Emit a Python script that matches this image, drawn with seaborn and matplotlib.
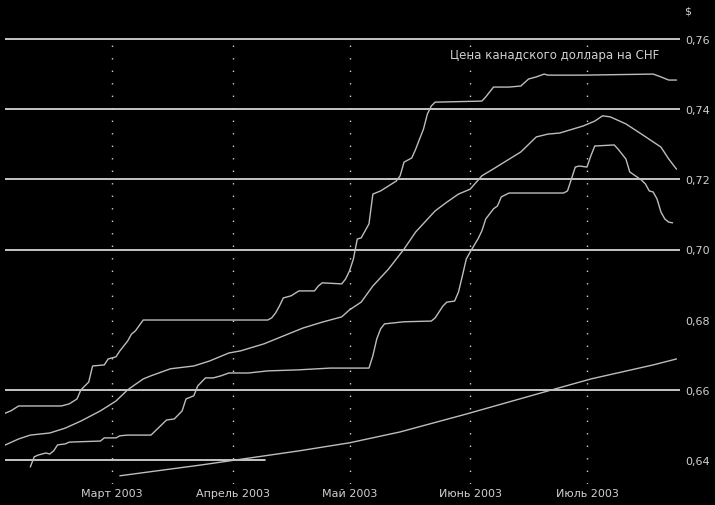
import pandas as pd
import seaborn as sns
import matplotlib
matplotlib.use("Agg")
import matplotlib.pyplot as plt
from matplotlib.ticker import FuncFormatter

# Upper band (step line)
high_dates = ["2003-02-01", "2003-02-03", "2003-02-05", "2003-02-16", "2003-02-18", "2003-02-20",
              "2003-02-21", "2003-02-23", "2003-02-24", "2003-02-27", "2003-02-28", "2003-03-02",
              "2003-03-03", "2003-03-05", "2003-03-06", "2003-03-07", "2003-03-09", "2003-04-10",
              "2003-04-11", "2003-04-12", "2003-04-13", "2003-04-14", "2003-04-16", "2003-04-18",
              "2003-04-22", "2003-04-23", "2003-04-24", "2003-04-29", "2003-04-30", "2003-05-01",
              "2003-05-02", "2003-05-03", "2003-05-04", "2003-05-05", "2003-05-06", "2003-05-07",
              "2003-05-09", "2003-05-11", "2003-05-13", "2003-05-14", "2003-05-15", "2003-05-17",
              "2003-05-18", "2003-05-19", "2003-05-20", "2003-05-21", "2003-05-22", "2003-05-23",
              "2003-06-04", "2003-06-05", "2003-06-07", "2003-06-11", "2003-06-14", "2003-06-16",
              "2003-06-18", "2003-06-20", "2003-06-21", "2003-06-30", "2003-07-18", "2003-07-20",
              "2003-07-22", "2003-07-24"]
high_vals = [0.6531, 0.6540, 0.6554, 0.6554, 0.6560, 0.6574,
             0.6600, 0.6622, 0.6668, 0.6671, 0.6688, 0.6694,
             0.6711, 0.6739, 0.6759, 0.6768, 0.6799, 0.6799,
             0.6805, 0.6819, 0.6839, 0.6862, 0.6868, 0.6882,
             0.6882, 0.6896, 0.6905, 0.6902, 0.6916, 0.6939,
             0.6973, 0.7030, 0.7033, 0.7053, 0.7073, 0.7158,
             0.7167, 0.7181, 0.7195, 0.7210, 0.7249, 0.7261,
             0.7286, 0.7315, 0.7343, 0.7386, 0.7409, 0.7420,
             0.7423, 0.7435, 0.7463, 0.7463, 0.7466, 0.7486,
             0.7492, 0.7500, 0.7497, 0.7497, 0.7500, 0.7492,
             0.7483, 0.7483]

# Moving average (smooth line)
avg_dates = ["2003-02-01", "2003-02-05", "2003-02-08", "2003-02-13", "2003-02-17", "2003-02-21",
             "2003-02-26", "2003-03-02", "2003-03-05", "2003-03-09", "2003-03-11", "2003-03-16",
             "2003-03-22", "2003-03-26", "2003-03-31", "2003-04-03", "2003-04-09", "2003-04-19",
             "2003-04-24", "2003-04-29", "2003-05-01", "2003-05-04", "2003-05-07", "2003-05-11",
             "2003-05-15", "2003-05-18", "2003-05-23", "2003-05-26", "2003-05-29", "2003-06-01",
             "2003-06-04", "2003-06-07", "2003-06-14", "2003-06-18", "2003-06-21", "2003-06-24",
             "2003-06-30", "2003-07-03", "2003-07-05", "2003-07-07", "2003-07-11", "2003-07-15",
             "2003-07-20", "2003-07-22", "2003-07-24"]
avg_vals = [0.6440, 0.6460, 0.6471, 0.6477, 0.6491, 0.6511,
            0.6540, 0.6568, 0.6600, 0.6631, 0.6640, 0.6660,
            0.6668, 0.6682, 0.6705, 0.6711, 0.6731, 0.6776,
            0.6793, 0.6808, 0.6828, 0.6850, 0.6896, 0.6944,
            0.7001, 0.7050, 0.7110, 0.7135, 0.7158, 0.7172,
            0.7210, 0.7230, 0.7278, 0.7321, 0.7329, 0.7332,
            0.7352, 0.7366, 0.7381, 0.7378, 0.7358, 0.7329,
            0.7292, 0.7258, 0.7229]

# Lower band (step line)
low_dates = ["2003-02-08", "2003-02-09", "2003-02-10", "2003-02-12", "2003-02-13", "2003-02-14",
             "2003-02-15", "2003-02-17", "2003-02-18", "2003-02-26", "2003-02-27", "2003-03-02",
             "2003-03-03", "2003-03-05", "2003-03-11", "2003-03-15", "2003-03-17", "2003-03-19",
             "2003-03-20", "2003-03-22", "2003-03-23", "2003-03-25", "2003-03-27", "2003-03-29",
             "2003-03-31", "2003-04-05", "2003-04-10", "2003-04-18", "2003-04-26", "2003-05-06",
             "2003-05-07", "2003-05-08", "2003-05-09", "2003-05-10", "2003-05-15", "2003-05-22",
             "2003-05-23", "2003-05-25", "2003-05-26", "2003-05-28", "2003-05-29", "2003-05-30",
             "2003-05-31", "2003-06-01", "2003-06-03", "2003-06-04", "2003-06-05", "2003-06-07",
             "2003-06-08", "2003-06-09", "2003-06-11", "2003-06-25", "2003-06-26", "2003-06-27",
             "2003-06-28", "2003-06-29", "2003-07-01", "2003-07-02", "2003-07-03", "2003-07-08",
             "2003-07-09", "2003-07-11", "2003-07-12", "2003-07-15", "2003-07-16", "2003-07-17",
             "2003-07-18", "2003-07-19", "2003-07-20", "2003-07-21", "2003-07-22", "2003-07-23"]
low_vals = [0.6380, 0.6409, 0.6414, 0.6420, 0.6417, 0.6426,
            0.6443, 0.6446, 0.6451, 0.6454, 0.6463, 0.6463,
            0.6469, 0.6471, 0.6471, 0.6514, 0.6517, 0.6540,
            0.6574, 0.6583, 0.6611, 0.6634, 0.6634, 0.6640,
            0.6648, 0.6648, 0.6654, 0.6657, 0.6662, 0.6662,
            0.6697, 0.6745, 0.6774, 0.6788, 0.6794, 0.6796,
            0.6805, 0.6839, 0.6850, 0.6853, 0.6879, 0.6925,
            0.6973, 0.6993, 0.7030, 0.7053, 0.7087, 0.7116,
            0.7124, 0.7150, 0.7161, 0.7161, 0.7167, 0.7201,
            0.7235, 0.7238, 0.7235, 0.7267, 0.7295, 0.7298,
            0.7286, 0.7258, 0.7221, 0.7198, 0.7187, 0.7167,
            0.7164, 0.7144, 0.7107, 0.7087, 0.7078, 0.7076]

# Long-term trend line
trend_dates = ["2003-03-03", "2003-03-24", "2003-04-18", "2003-05-01", "2003-05-14",
               "2003-05-31", "2003-06-22", "2003-07-02", "2003-07-18", "2003-07-24"]
trend_vals = [0.6355, 0.6386, 0.6426, 0.6449, 0.6480,
              0.6531, 0.6600, 0.6631, 0.6671, 0.6688]

y_ticks = [0.64, 0.66, 0.68, 0.70, 0.72, 0.74, 0.76]
full_grid = [0.66, 0.70, 0.72, 0.74, 0.76]
month_ticks = ["2003-03-01", "2003-04-01", "2003-05-01", "2003-06-01", "2003-07-01"]
month_labels = ["Март 2003", "Апрель 2003", "Май 2003", "Июнь 2003", "Июль 2003"]
title = "Цена канадского доллара на CHF"

sns.set_theme(style="dark", rc={"axes.facecolor": "black", "figure.facecolor": "black"})
plt.rcParams["font.family"] = ["DejaVu Sans"]

fig = plt.figure(figsize=(7.15, 5.06), dpi=100)
# axes spans pixel rows 34..485, columns 5..680
ax = fig.add_axes([5 / 715, 21 / 506, 675 / 715, 451 / 506])
ax.set_facecolor("black")

line_color = "#bdbdbd"
grid_color = "#e6e6e6"
per_px = 0.12 / 421

# grid lines
for v in full_grid:
    ax.axhline(v, color=grid_color, lw=1.2, zorder=1)
ax.axhline(0.64, xmin=0, xmax=260 / 675, color=grid_color, lw=1.2, zorder=1)
for d in month_ticks:
    ax.axvline(pd.Timestamp(d), ymax=443 / 451, color="#cfcfcf", lw=1.0, ls=(0, (1, 8)), zorder=1)

series = [(high_dates, high_vals), (avg_dates, avg_vals),
          (low_dates, low_vals), (trend_dates, trend_vals)]
for dates, vals in series:
    df = pd.DataFrame({"date": pd.to_datetime(dates), "value": vals})
    sns.lineplot(data=df, x="date", y="value", ax=ax, color=line_color, lw=1.0, zorder=2)

start = pd.Timestamp("2003-03-01") - pd.Timedelta(days=27.5)
end = pd.Timestamp("2003-07-01") + pd.Timedelta(days=23.9)
ax.set_xlim(start, end)
ax.set_ylim(0.76 - 445 * per_px, 0.76 + 6 * per_px)

ax.set_xticks(pd.to_datetime(month_ticks))
ax.set_xticklabels(month_labels, color="#d0d0d0", fontsize=8)
ax.yaxis.tick_right()
ax.set_yticks(y_ticks)
ax.yaxis.set_major_formatter(FuncFormatter(lambda v, p: f"{v:.2f}".replace(".", ",")))
ax.tick_params(axis="y", length=0, pad=4, labelcolor="#d0d0d0", labelsize=8)
ax.tick_params(axis="x", length=0, pad=3)
ax.set_xlabel("")
ax.set_ylabel("")
ax.grid(False)
for s in ax.spines.values():
    s.set_visible(False)

ax.text(0.970, 0.953, title, transform=ax.transAxes, ha="right", va="center",
        color="#d0d0d0", fontsize=8.5)
fig.text(684 / 715, 1 - 12 / 506, "$", ha="left", va="center", color="#d0d0d0", fontsize=8)

fig.savefig("out.png", dpi=100, facecolor="black")
